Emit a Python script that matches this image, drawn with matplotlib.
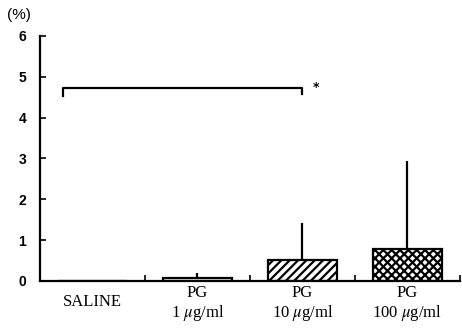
import matplotlib
matplotlib.use('Agg')
import matplotlib.pyplot as plt

categories = ['SALINE', 'PG\n1 $\\mu$g/ml', 'PG\n10 $\\mu$g/ml', 'PG\n100 $\\mu$g/ml']
means = [0.0, 0.07, 0.51, 0.78]
upper_sd = [0.0, 0.13, 0.91, 2.15]
hatches = ['', '', '////', 'xxxx']
y_ticks = [0, 1, 2, 3, 4, 5, 6]
sig_pair = (0, 2)
sig_height = 4.73

plt.rcParams['hatch.linewidth'] = 1.6
plt.rcParams['mathtext.fontset'] = 'stix'

fig = plt.figure(figsize=(4.62, 3.3), dpi=100)
ax = fig.add_axes([0.0866, 0.1485, 0.909, 0.7425])

x = list(range(len(categories)))
for i in x:
    ax.bar(i, means[i], width=0.66, color='white', edgecolor='black',
           linewidth=1.6, hatch=hatches[i], zorder=2)
ax.errorbar(x, means, yerr=[[0] * len(x), upper_sd], fmt='none',
            ecolor='black', elinewidth=1.6, capsize=0, zorder=1)

# significance bracket
x0, x1 = sig_pair
ax.plot([x0 - 0.28, x0 - 0.28, x1, x1],
        [sig_height - 0.2, sig_height, sig_height, sig_height - 0.15],
        color='black', lw=1.6, clip_on=False)
ax.text(x1 + 0.1, sig_height, '*', ha='left', va='center', fontsize=9,
        fontweight='bold')

ax.set_xlim(-0.5, 3.5)
ax.set_ylim(0, 6)
ax.spines['top'].set_visible(False)
ax.spines['right'].set_visible(False)
ax.spines['left'].set_linewidth(1.6)
ax.spines['bottom'].set_linewidth(1.6)

ax.set_yticks(y_ticks)
ax.set_yticklabels([str(t) for t in y_ticks], fontsize=10,
                   family='Liberation Sans', fontweight='bold')
ax.tick_params(axis='y', direction='in', length=4, width=1.2, pad=10)

# single-line label sits centred against the two-line ones
ax.set_xticks(x)
ax.set_xticklabels([''] + categories[1:], fontsize=12,
                   family='Liberation Serif', linespacing=1.15)
ax.text(0, -0.085, categories[0], transform=ax.get_xaxis_transform(),
        ha='center', va='center', fontsize=12, family='Liberation Serif')
ax.set_xticks([0.5, 1.5, 2.5, 3.5], minor=True)
ax.tick_params(axis='x', which='major', length=0, pad=3)
ax.tick_params(axis='x', which='minor', direction='in', length=4, width=1.2)

fig.text(0.015, 0.955, '(%)', fontsize=11, family='Liberation Sans',
         ha='left', va='center')

fig.savefig('out.png', dpi=100)
